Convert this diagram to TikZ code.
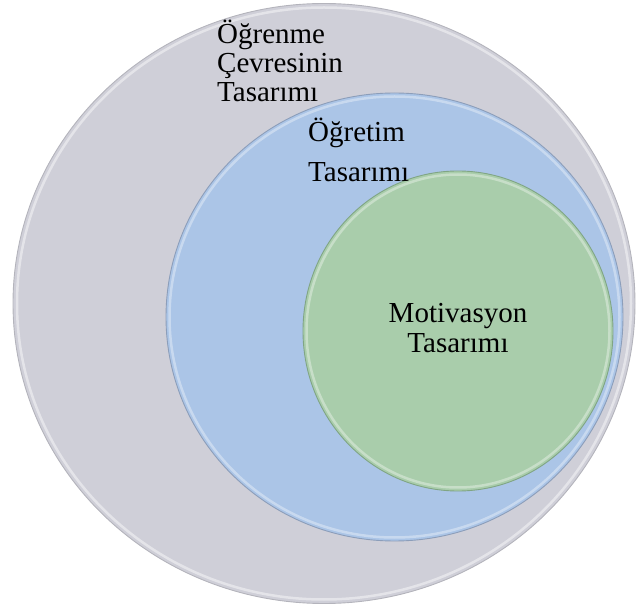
\documentclass[tikz,border=0pt]{standalone}
\usepackage{fontspec}
\setmainfont{Liberation Serif}

\definecolor{envgray}{RGB}{207,207,216}
\definecolor{envedge}{RGB}{180,180,188}
\definecolor{instblue}{RGB}{171,197,231}
\definecolor{instedge}{RGB}{140,158,186}
\definecolor{motgreen}{RGB}{169,205,171}
\definecolor{motedge}{RGB}{128,165,132}

\begin{document}
\begin{tikzpicture}[x=1pt,y=-1pt,
    layer/.style={line width=0.9pt},
    rim/.style={white, opacity=0.45, line width=2.5pt},
    layertext/.style={inner sep=0pt, align=left}]
    \useasboundingbox (0,0) rectangle (638,612);

    % nested design layers
    \filldraw[layer, fill=envgray, draw=envedge] (324,303.5) ellipse [x radius=311, y radius=300];
    \draw[rim] (324,303.5) ellipse [x radius=307, y radius=296];
    \filldraw[layer, fill=instblue, draw=instedge] (394.5,317) ellipse [x radius=228.5, y radius=224];
    \draw[rim, opacity=0.35] (394.5,317) ellipse [x radius=225, y radius=220.5];
    \filldraw[layer, fill=motgreen, draw=motedge] (458,331) ellipse [x radius=155, y radius=160];
    \draw[rim, opacity=0.35] (458,331) ellipse [x radius=151.5, y radius=156.5];

    % layer names (base = last line)
    \node[layertext, anchor=base west, font=\fontsize{29}{29}\selectfont] (env) at (217,102)
        {Öğrenme\\Çevresinin\\Tasarımı};
    \node[layertext, anchor=base west, font=\fontsize{29}{40}\selectfont] (inst) at (308,182)
        {Öğretim\\Tasarımı};
    \node[layertext, align=center, anchor=base, font=\fontsize{29}{30}\selectfont] (mot) at (458,353)
        {Motivasyon\\Tasarımı};
\end{tikzpicture}
\end{document}
